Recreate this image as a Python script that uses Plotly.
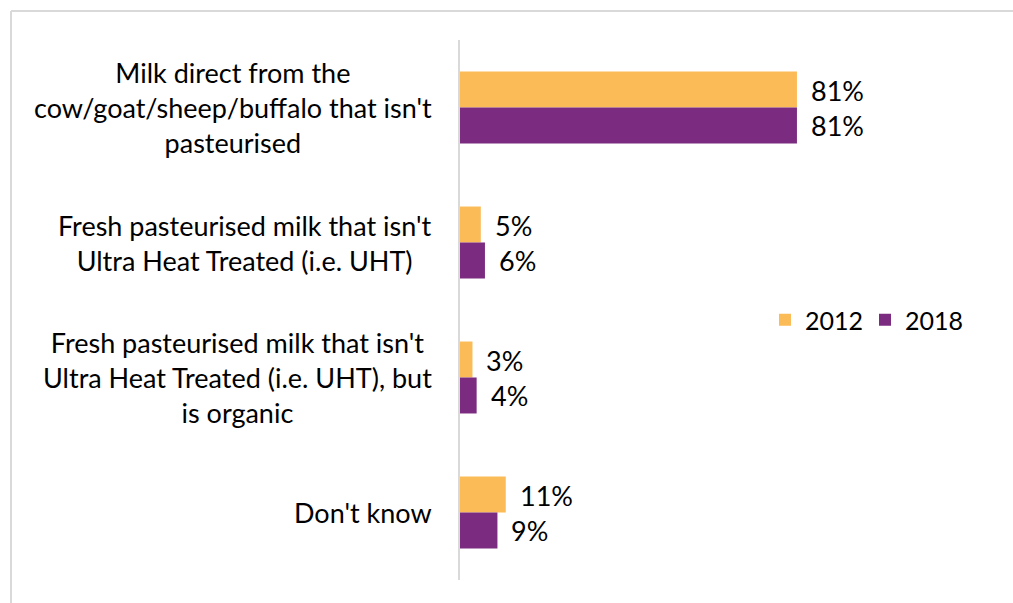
import plotly.graph_objects as go

# Survey answers (one label per category, lines split with <br>)
categories = [
    "Milk direct from the<br>cow/goat/sheep/buffalo that isn't<br>pasteurised",
    "Fresh pasteurised milk that isn't<br>Ultra Heat Treated (i.e. UHT)",
    "Fresh pasteurised milk that isn't<br>Ultra Heat Treated (i.e. UHT), but<br>is organic",
    "Don't know",
]
years = ["2012", "2018"]
values_2012 = [81, 5, 3, 11]
values_2018 = [81, 6, 4, 9]

colors = {"2012": "#FBBB57", "2018": "#7B2C80"}
FONT = "Lato"
FS = 27

fig = go.Figure()
for year, vals in zip(years, [values_2012, values_2018]):
    fig.add_trace(go.Bar(
        y=categories, x=vals, name=year, orientation="h",
        marker=dict(color=colors[year], line=dict(width=0)),
        hoverinfo="skip",
    ))

annotations = []
# Category labels: centered lines, block right-aligned next to the axis
for cat in categories:
    annotations.append(dict(
        x=0, xref="paper", y=cat, yref="y", text=cat, showarrow=False,
        xanchor="right", yanchor="middle", align="center", xshift=-26,
        font=dict(family=FONT, size=FS, color="#000000"),
    ))
# Value labels at the end of each bar
for year, vals, shift in zip(years, [values_2012, values_2018], [17.5, -17.5]):
    for cat, v in zip(categories, vals):
        annotations.append(dict(
            x=v, xref="x", y=cat, yref="y", text=f"{v}%", showarrow=False,
            xanchor="left", yanchor="middle", xshift=12, yshift=shift,
            font=dict(family=FONT, size=FS, color="#000000"),
        ))

L, R, T, B = 460, 137, 40, 23
W, H = 1013, 603
pw, ph = W - L - R, H - T - B

def px_x(px):
    return (px - L) / pw

def px_y(py):
    return (H - B - py) / ph

shapes = [
    # chart frame (top and left edges)
    dict(type="line", xref="paper", yref="paper", x0=px_x(11), x1=px_x(1020),
         y0=px_y(11), y1=px_y(11), line=dict(color="#D9D9D9", width=2)),
    dict(type="line", xref="paper", yref="paper", x0=px_x(11), x1=px_x(11),
         y0=px_y(11), y1=px_y(610), line=dict(color="#D9D9D9", width=2)),
]

fig.update_layout(
    width=W, height=H,
    margin=dict(l=L, r=R, t=T, b=B, pad=0),
    paper_bgcolor="white", plot_bgcolor="white",
    barmode="group", bargap=0.467, bargroupgap=0,
    font=dict(family=FONT, size=FS, color="#000000"),
    xaxis=dict(range=[0, 100], showgrid=False, zeroline=False,
               showticklabels=False, ticks="", showline=False),
    yaxis=dict(type="category", autorange="reversed", showticklabels=False,
               showgrid=False, zeroline=False, ticks="",
               showline=True, linecolor="#D9D9D9", linewidth=2),
    legend=dict(orientation="h", x=px_x(765), xanchor="left",
                y=px_y(320), yanchor="middle", entrywidth=55,
                font=dict(family=FONT, size=25), itemclick=False,
                bgcolor="rgba(0,0,0,0)"),
    annotations=annotations,
    shapes=shapes,
)

fig.write_html("out.html")
